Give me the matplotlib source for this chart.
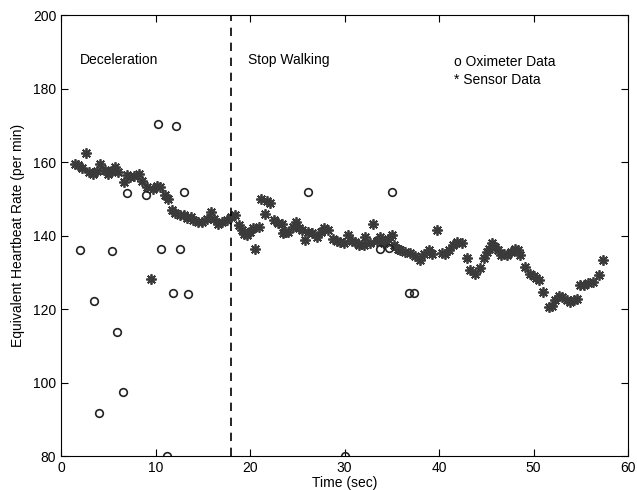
import numpy as np
import matplotlib.pyplot as plt

plt.rcParams['font.family'] = ['Liberation Sans', 'DejaVu Sans']

# oximeter readings (time in s, rate per min)
oxi_t = [2.0, 3.46, 4.05, 5.4, 5.96, 6.53, 7.0, 8.96, 10.2, 10.55, 11.2, 11.85,
         12.2, 12.6, 13.0, 13.4, 26.1, 30.0, 33.7, 34.7, 35.06, 36.8, 37.3]
oxi_hr = [136.1, 122.1, 91.7, 135.9, 113.8, 97.4, 151.6, 151.0, 170.3, 136.4, 80.1, 124.4,
          169.8, 136.5, 151.8, 124.2, 151.8, 80.0, 136.5, 136.7, 151.9, 124.3, 124.3]

# sensor readings
sen_t = [1.5, 1.8, 2.2, 2.65, 2.9, 3.4, 3.8, 4.1, 4.65, 5.0, 5.4, 5.7, 6.06, 6.6, 7.0, 7.3,
         7.7, 8.2, 8.6, 9.07, 9.5, 9.77, 10.1, 10.5, 11.0, 11.3, 11.7, 12.1, 12.6, 13.0, 13.3,
         13.7, 14.0, 14.5, 14.9, 15.4, 15.9, 16.2, 16.6, 17.0, 17.5, 18.0, 18.4, 18.8, 19.1,
         19.4, 19.7, 20.0, 20.35, 20.5, 20.9, 21.2, 21.6, 21.8, 22.1, 22.5, 23.0, 23.35, 23.5,
         23.7, 24.05, 24.5, 24.9, 25.2, 25.5, 25.8, 26.1, 26.5, 27.1, 27.5, 27.8, 28.2, 28.8,
         29.2, 29.5, 29.9, 30.4, 30.8, 31.1, 31.5, 32.0, 32.2, 32.7, 33.05, 33.4, 33.75, 34.2,
         34.6, 35.0, 35.2, 35.6, 35.9, 36.4, 36.9, 37.4, 38.0, 38.4, 38.9, 39.3, 39.75, 40.3,
         40.6, 41.0, 41.5, 41.9, 42.4, 42.9, 43.3, 43.8, 44.3, 44.7, 45.05, 45.3, 45.6, 45.9,
         46.2, 46.5, 46.9, 47.2, 47.6, 48.0, 48.3, 48.6, 49.1, 49.6, 50.0, 50.3, 50.6, 51.0,
         51.6, 52.0, 52.3, 52.7, 53.0, 53.5, 53.9, 54.3, 54.6, 54.9, 55.3, 55.8, 56.3, 56.9, 57.3]
sen_hr = [159.5, 159.2, 158.3, 162.5, 157.4, 156.9, 157.5, 159.6, 157.8, 156.9, 157.5, 158.7,
          157.4, 154.6, 156.5, 156.0, 156.3, 156.9, 155.0, 153.3, 128.1, 152.8, 153.5, 153.3,
          151.0, 150.0, 146.9, 146.3, 145.6, 145.5, 144.7, 145.0, 144.2, 143.8, 143.8, 144.5,
          146.5, 144.5, 143.3, 143.8, 144.2, 145.0, 145.6, 143.0, 141.5, 140.5, 140.1, 141.0,
          142.0, 136.5, 142.4, 150.0, 146.0, 149.5, 148.8, 144.2, 143.5, 143.3, 140.6, 141.0,
          141.0, 142.5, 143.8, 142.0, 141.5, 138.8, 141.0, 140.6, 139.7, 141.0, 142.0, 141.5,
          139.2, 138.5, 138.3, 138.0, 140.1, 138.5, 138.3, 137.5, 137.4, 139.7, 137.9, 143.3,
          138.5, 139.7, 138.0, 139.0, 140.1, 137.4, 136.5, 136.1, 135.5, 135.2, 134.5, 133.3,
          135.0, 136.1, 135.0, 141.5, 135.2, 135.0, 136.1, 137.5, 138.3, 138.0, 133.8, 130.6,
          129.7, 131.1, 133.8, 135.6, 136.5, 137.9, 136.9, 136.0, 134.7, 135.0, 134.7, 135.5,
          136.5, 136.0, 134.7, 131.5, 129.7, 129.0, 128.4, 128.0, 124.7, 120.6, 121.0, 122.4,
          123.5, 123.3, 122.5, 122.0, 122.5, 122.9, 126.5, 126.5, 127.0, 127.4, 129.3, 133.3]

fig = plt.figure(figsize=(6.37, 4.90), dpi=100)
ax = fig.add_axes([0.096, 0.069, 0.89, 0.9])

ax.plot(sen_t, sen_hr, linestyle='none', marker=(8, 2, 0), markersize=7.5,
        markeredgewidth=1.3, color='#3a3a3a')
ax.plot(oxi_t, oxi_hr, linestyle='none', marker='o', markersize=5.5,
        markerfacecolor='none', markeredgecolor='#222222', markeredgewidth=1.2)

ax.axvline(18, color='black', linestyle=(0, (5, 4)), linewidth=1.2)

ax.text(2.0, 187.8, 'Deceleration', fontsize=10, va='center', ha='left')
ax.text(19.8, 187.8, 'Stop Walking', fontsize=10, va='center', ha='left')
ax.text(41.6, 187.3, 'o Oximeter Data', fontsize=10, va='center', ha='left')
ax.text(41.6, 182.3, '* Sensor Data', fontsize=10, va='center', ha='left')

ax.set_xlim(0, 60)
ax.set_ylim(80, 200)
ax.set_xticks(np.arange(0, 61, 10))
ax.set_yticks(np.arange(80, 201, 20))
ax.tick_params(direction='in', top=True, right=True, length=5, labelsize=10)
ax.set_xlabel('Time (sec)', fontsize=10, labelpad=1)
ax.set_ylabel('Equivalent Heartbeat Rate (per min)', fontsize=10, labelpad=6)

plt.savefig('out.png', dpi=100)
